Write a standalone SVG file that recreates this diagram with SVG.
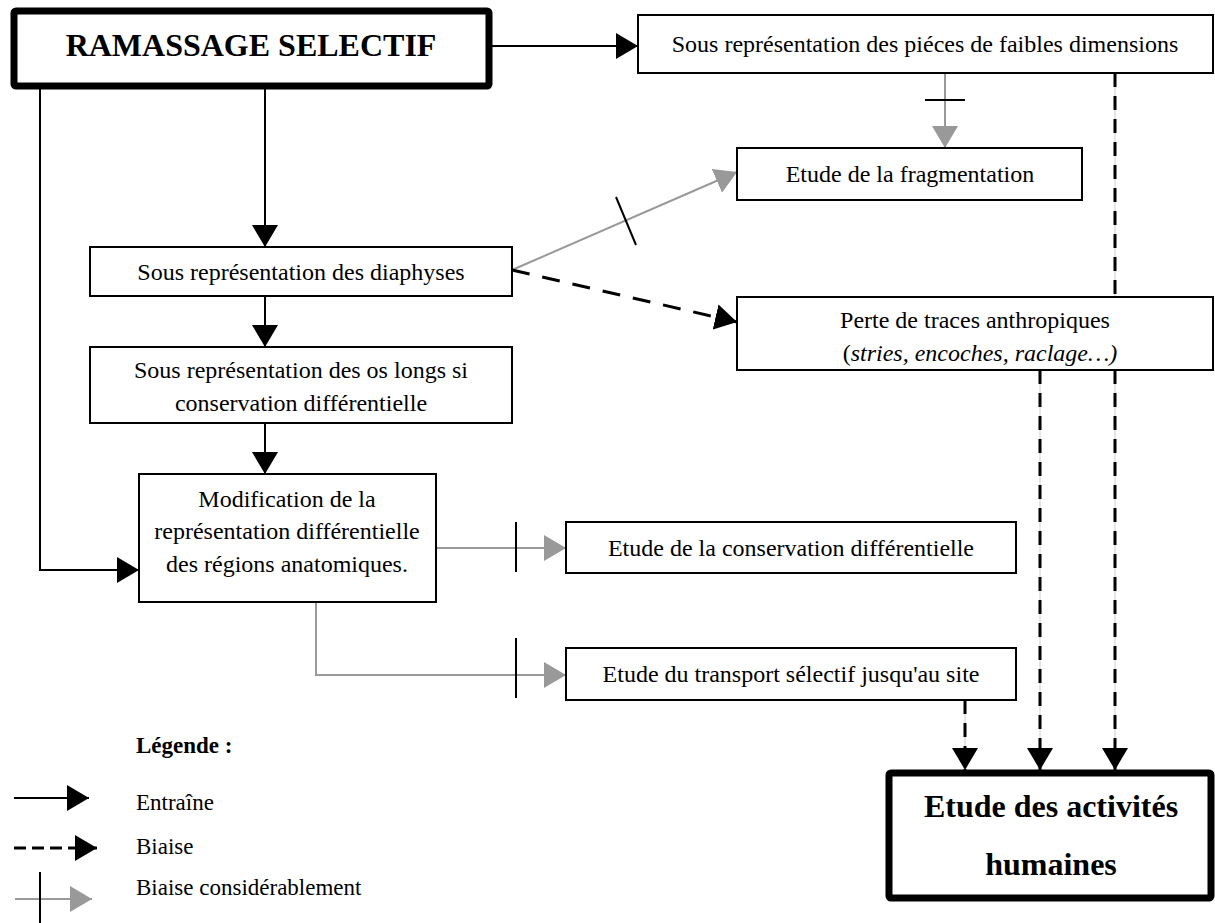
<svg xmlns="http://www.w3.org/2000/svg" width="1215" height="923" viewBox="0 0 1215 923">
<style>
.box{fill:#fff;stroke:#000;stroke-width:2}
.thick{fill:#fff;stroke:#000;stroke-width:7}
.t{font-family:"Liberation Serif","Times New Roman",serif;font-size:24px;fill:#000;text-anchor:middle}
.b{font-family:"Liberation Serif","Times New Roman",serif;font-weight:bold;fill:#000;text-anchor:middle}
.lg{font-family:"Liberation Serif","Times New Roman",serif;font-size:23px;fill:#000}
.solid{fill:none;stroke:#000;stroke-width:2}
.dash{fill:none;stroke:#000;stroke-width:3;stroke-dasharray:14 9}
.thin{fill:none;stroke:#ccc;stroke-width:1}
.gray{fill:none;stroke:#999;stroke-width:2}
.tick{fill:none;stroke:#000;stroke-width:2}
</style>
<defs>
<marker id="ab" markerWidth="22" markerHeight="26" refX="22" refY="13" orient="auto" markerUnits="userSpaceOnUse"><path d="M0,0 L22,13 L0,26 Z" fill="#000"/></marker>
<marker id="ag" markerWidth="22" markerHeight="26" refX="22" refY="13" orient="auto" markerUnits="userSpaceOnUse"><path d="M0,0 L22,13 L0,26 Z" fill="#999"/></marker>
</defs>
<rect width="1215" height="923" fill="#fff"/>
<g id="connectors">
<path class="solid" d="M492,46 H638" marker-end="url(#ab)"/>
<path class="solid" d="M265,89 V247" marker-end="url(#ab)"/>
<path class="solid" d="M40,89 V570 H139" marker-end="url(#ab)"/>
<path class="solid" d="M265,296 V347" marker-end="url(#ab)"/>
<path class="solid" d="M265,423 V474" marker-end="url(#ab)"/>
<path class="gray" d="M945,73 V148" marker-end="url(#ag)"/>
<path class="tick" d="M925,100 H965"/>
<path class="gray" d="M512,270 L737,172" marker-end="url(#ag)"/>
<path class="tick" d="M616,197 L636,245"/>
<path class="dash" d="M512,270 L737,322" marker-end="url(#ab)" style="stroke-dasharray:18 13"/>
<path class="thin" d="M1115,73 V297"/>
<path class="dash" d="M1115,73 V297"/>
<path class="thin" d="M1115,370 V760"/>
<path class="dash" d="M1115,370 V770" marker-end="url(#ab)"/>
<path class="thin" d="M1040,370 V760"/>
<path class="dash" d="M1040,370 V770" marker-end="url(#ab)"/>
<path class="thin" d="M965,700 V760"/>
<path class="dash" d="M965,700 V770" marker-end="url(#ab)"/>
<path class="gray" d="M436,548 H566" marker-end="url(#ag)"/>
<path class="tick" d="M516,522 V572"/>
<path class="gray" d="M316,602 V675 H566" marker-end="url(#ag)"/>
<path class="tick" d="M516,638 V698"/>
</g>
<g id="ramassage">
<rect class="thick" x="14" y="11" width="475" height="75" rx="2"/>
<text class="b" x="251" y="56" font-size="32">RAMASSAGE SELECTIF</text>
</g>
<g id="pieces">
<rect class="box" x="638" y="15" width="575" height="58"/>
<text class="t" x="925" y="52">Sous représentation des piéces de faibles dimensions</text>
</g>
<g id="fragmentation">
<rect class="box" x="737" y="148" width="345" height="52"/>
<text class="t" x="910" y="182">Etude de la fragmentation</text>
</g>
<g id="diaphyses">
<rect class="box" x="90" y="247" width="422" height="49"/>
<text class="t" x="301" y="280">Sous représentation des diaphyses</text>
</g>
<g id="oslongs">
<rect class="box" x="90" y="347" width="422" height="76"/>
<text class="t" x="301" y="378">Sous représentation des os longs si</text>
<text class="t" x="301" y="411">conservation différentielle</text>
</g>
<g id="modification">
<rect class="box" x="139" y="474" width="297" height="128"/>
<text class="t" x="287" y="507">Modification de la</text>
<text class="t" x="287" y="539">représentation différentielle</text>
<text class="t" x="287" y="572">des régions anatomiques.</text>
</g>
<g id="perte">
<rect class="box" x="737" y="297" width="476" height="73"/>
<text class="t" x="975" y="328">Perte de traces anthropiques</text>
<text class="t" x="980" y="361">(<tspan font-style="italic">stries, encoches, raclage…)</tspan></text>
</g>
<g id="conservation">
<rect class="box" x="566" y="522" width="450" height="51"/>
<text class="t" x="791" y="556">Etude de la conservation différentielle</text>
</g>
<g id="transport">
<rect class="box" x="566" y="648" width="450" height="52"/>
<text class="t" x="791" y="682">Etude du transport sélectif jusqu'au site</text>
</g>
<g id="activites">
<rect class="thick" x="889" y="773" width="322" height="125" rx="2"/>
<text class="b" x="1051" y="817" font-size="32">Etude des activités</text>
<text class="b" x="1051" y="875" font-size="32">humaines</text>
</g>
<g id="legend">
<text class="lg" x="136" y="753" font-weight="bold" font-size="22">Légende :</text>
<path class="solid" d="M14,798 H89" marker-end="url(#ab)"/>
<text class="lg" x="136" y="810">Entraîne</text>
<path class="dash" d="M14,848 H97" marker-end="url(#ab)" style="stroke-dasharray:12 6"/>
<text class="lg" x="136" y="854">Biaise</text>
<path class="gray" d="M15,899 H92" marker-end="url(#ag)"/>
<path class="tick" d="M40,872 V923"/>
<text class="lg" x="136" y="895">Biaise considérablement</text>
</g>
</svg>
